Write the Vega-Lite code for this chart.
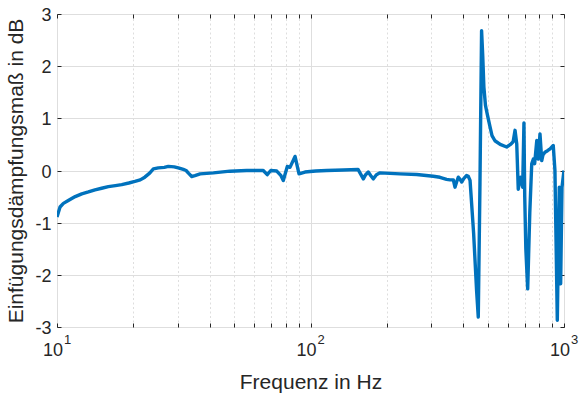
{
  "$schema": "https://vega.github.io/schema/vega-lite/v6.json",
  "autosize": "none",
  "width": 507,
  "height": 313,
  "padding": {"left": 57, "top": 14, "right": 15, "bottom": 67},
  "background": "white",
  "config": {
    "view": {"stroke": "#262626", "strokeWidth": 1},
    "font": "Liberation Sans",
    "axis": {"labelFont": "Liberation Sans", "titleFont": "Liberation Sans", "labelColor": "#262626", "titleColor": "#262626", "titleFontWeight": "normal", "tickColor": "#262626", "domain": false, "labelFlush": false, "labelOverlap": false}
  },
  "data": {"values": [
    {"f": 10, "v": -0.89}, {"f": 10.28, "v": -0.7}, {"f": 10.6, "v": -0.63}, {"f": 11.08, "v": -0.575},
    {"f": 11.8, "v": -0.5}, {"f": 12.52, "v": -0.447}, {"f": 13.3, "v": -0.41}, {"f": 14.12, "v": -0.37},
    {"f": 15.0, "v": -0.34}, {"f": 15.94, "v": -0.31}, {"f": 17.0, "v": -0.29}, {"f": 18.0, "v": -0.27},
    {"f": 19.2, "v": -0.24}, {"f": 20.3, "v": -0.21}, {"f": 21.3, "v": -0.18}, {"f": 22.2, "v": -0.128},
    {"f": 23.2, "v": -0.05}, {"f": 24.0, "v": 0.03}, {"f": 25.1, "v": 0.05}, {"f": 26.5, "v": 0.06},
    {"f": 27.5, "v": 0.08}, {"f": 29.0, "v": 0.07}, {"f": 30.1, "v": 0.05}, {"f": 31.5, "v": 0.02},
    {"f": 32.3, "v": 0.0}, {"f": 33.0, "v": -0.05}, {"f": 34.0, "v": -0.115}, {"f": 35.0, "v": -0.1},
    {"f": 36.7, "v": -0.065}, {"f": 41.4, "v": -0.045}, {"f": 48.1, "v": -0.013}, {"f": 56.0, "v": 0.0},
    {"f": 65.1, "v": 0.0}, {"f": 67.5, "v": -0.08}, {"f": 69.7, "v": 0.0}, {"f": 73.6, "v": -0.01},
    {"f": 76.5, "v": -0.1}, {"f": 78.1, "v": -0.19}, {"f": 81.0, "v": 0.077}, {"f": 83.0, "v": 0.06},
    {"f": 86.9, "v": 0.27}, {"f": 90.1, "v": -0.065}, {"f": 95.1, "v": -0.03}, {"f": 99.6, "v": -0.02},
    {"f": 105, "v": -0.01}, {"f": 115.8, "v": 0.0}, {"f": 135, "v": 0.01}, {"f": 154, "v": 0.02},
    {"f": 161.6, "v": -0.16}, {"f": 165, "v": -0.08}, {"f": 169, "v": -0.03}, {"f": 173, "v": -0.1},
    {"f": 177, "v": -0.16}, {"f": 182, "v": -0.08}, {"f": 188, "v": -0.045}, {"f": 225.5, "v": -0.065},
    {"f": 262.4, "v": -0.077}, {"f": 305, "v": -0.11}, {"f": 324, "v": -0.13}, {"f": 344, "v": -0.17},
    {"f": 355, "v": -0.18}, {"f": 366, "v": -0.18}, {"f": 371.5, "v": -0.32}, {"f": 377, "v": -0.22},
    {"f": 383, "v": -0.128}, {"f": 389, "v": -0.17}, {"f": 395, "v": -0.22}, {"f": 403, "v": -0.15},
    {"f": 413, "v": -0.096}, {"f": 419, "v": -0.11}, {"f": 426, "v": -0.19}, {"f": 440, "v": -1.2},
    {"f": 452, "v": -2.3}, {"f": 459, "v": -2.81}, {"f": 466, "v": -0.3}, {"f": 473, "v": 2.68},
    {"f": 478, "v": 2.2}, {"f": 483, "v": 1.6}, {"f": 490, "v": 1.25}, {"f": 498, "v": 1.08},
    {"f": 510, "v": 0.85}, {"f": 520, "v": 0.67}, {"f": 534, "v": 0.57}, {"f": 560, "v": 0.5},
    {"f": 594, "v": 0.45}, {"f": 615, "v": 0.5}, {"f": 630, "v": 0.55}, {"f": 641, "v": 0.77},
    {"f": 651, "v": 0.51}, {"f": 660, "v": -0.36}, {"f": 667, "v": -0.2}, {"f": 675, "v": -0.13},
    {"f": 687, "v": -0.32}, {"f": 695, "v": 0.91}, {"f": 700, "v": -0.5}, {"f": 707, "v": -1.5},
    {"f": 719, "v": -2.27}, {"f": 733, "v": -0.8}, {"f": 746, "v": 0.13}, {"f": 757, "v": 0.22},
    {"f": 766, "v": 0.13}, {"f": 781, "v": 0.575}, {"f": 792, "v": 0.22}, {"f": 804, "v": 0.7},
    {"f": 817, "v": 0.19}, {"f": 826, "v": 0.3}, {"f": 841, "v": 0.35}, {"f": 861, "v": 0.38},
    {"f": 881, "v": 0.415}, {"f": 907, "v": 0.48}, {"f": 921, "v": 0.0}, {"f": 941, "v": -2.87},
    {"f": 958, "v": -0.32}, {"f": 970, "v": -2.17}, {"f": 982, "v": -0.32}, {"f": 1000, "v": 0.0}
  ]},
  "layer": [
    {
      "mark": {"type": "line", "color": "#0072BD", "strokeWidth": 3.4, "clip": true, "strokeJoin": "round"},
      "encoding": {
        "x": {
          "field": "f", "type": "quantitative",
          "scale": {"type": "log", "domain": [10, 1000], "nice": false},
          "axis": {
            "orient": "bottom",
            "values": [10, 20, 30, 40, 50, 60, 70, 80, 90, 100, 200, 300, 400, 500, 600, 700, 800, 900, 1000],
            "labelExpr": "datum.value == 10 || datum.value == 100 || datum.value == 1000 ? '10' : ''",
            "labelFontSize": 18,
            "labelPadding": 18,
            "labelOffset": -4.5,
            "tickSize": -4,
            "grid": true,
            "gridColor": "#dedede",
            "gridDash": {"condition": {"test": "datum.value == 10 || datum.value == 100 || datum.value == 1000", "value": []}, "value": [2, 2.5]},
            "title": "Frequenz in Hz",
            "titleFontSize": 21,
            "titlePadding": 12
          }
        },
        "y": {
          "field": "v", "type": "quantitative",
          "scale": {"domain": [-3, 3], "nice": false},
          "axis": {
            "orient": "left",
            "values": [-3, -2, -1, 0, 1, 2, 3],
            "labelExpr": "datum.value + ''",
            "labelFontSize": 18,
            "labelPadding": 10,
            "labelOffset": 1.5,
            "tickSize": -4,
            "grid": true,
            "gridColor": "#dedede",
            "title": "Einfügungsdämpfungsmaß in dB",
            "titleFontSize": 21,
            "titlePadding": 8
          }
        }
      }
    },
    {
      "mark": {"type": "line", "opacity": 0},
      "encoding": {
        "x": {
          "field": "f", "type": "quantitative",
          "scale": {"type": "log", "domain": [10, 1000], "nice": false},
          "axis": {"orient": "top", "values": [10, 20, 30, 40, 50, 60, 70, 80, 90, 100, 200, 300, 400, 500, 600, 700, 800, 900, 1000], "labels": false, "grid": false, "tickSize": -4, "title": null}
        },
        "y": {
          "field": "v", "type": "quantitative",
          "scale": {"domain": [-3, 3], "nice": false},
          "axis": {"orient": "right", "values": [-3, -2, -1, 0, 1, 2, 3], "labels": false, "grid": false, "tickSize": -4, "title": null}
        }
      }
    },
    {
      "mark": {"type": "line", "opacity": 0},
      "encoding": {
        "x": {
          "field": "f", "type": "quantitative",
          "scale": {"type": "log", "domain": [10, 1000], "nice": false},
          "axis": {"orient": "bottom", "values": [10, 100, 1000], "labelExpr": "datum.value == 10 ? '1' : datum.value == 100 ? '2' : '3'", "labelFontSize": 13, "labelPadding": 6, "labelOffset": 10, "ticks": false, "tickSize": 0, "grid": false, "title": null}
        },
        "y": {
          "field": "v", "type": "quantitative",
          "scale": {"domain": [-3, 3], "nice": false},
          "axis": null
        }
      }
    }
  ],
  "resolve": {"axis": {"x": "independent", "y": "independent"}}
}
